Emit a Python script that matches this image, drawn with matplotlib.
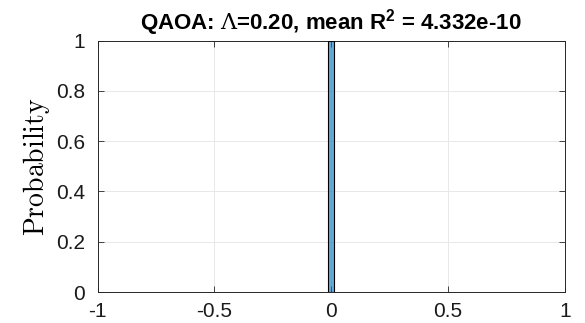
import numpy as np
import matplotlib
matplotlib.use('Agg')
import matplotlib.pyplot as plt
from matplotlib.ticker import FuncFormatter

# histogram of R values (one bin holds everything)
bin_centers = [0.0]
bin_probs = [1.0]
bin_width = 0.025

x_ticks = [-1, -0.5, 0, 0.5, 1]
y_ticks = [0, 0.2, 0.4, 0.6, 0.8, 1]
title = r'QAOA: $\mathrm{\Lambda}$=0.20, mean R$^{\mathbf{2}}$ = 4.332e-10'

plt.rcParams['font.family'] = ['Liberation Sans', 'DejaVu Sans']
plt.rcParams['mathtext.fontset'] = 'cm'
plt.rcParams['mathtext.rm'] = 'DejaVu Serif'
plt.rcParams['mathtext.bf'] = 'Liberation Sans:bold'

fig = plt.figure(figsize=(5.85, 3.23), dpi=100)
ax = fig.add_axes([97.5 / 585, 1 - 292 / 323, 467.5 / 585, 251.3 / 323])

ax.bar(bin_centers, bin_probs, width=bin_width, color=(0.0, 0.447, 0.741, 0.6),
       edgecolor='black', linewidth=0.8, zorder=3)

ax.set_xlim(-1, 1)
ax.set_ylim(0, 1)
ax.set_xticks(x_ticks)
ax.set_yticks(y_ticks)
fmt = FuncFormatter(lambda v, p: ('%g' % v))
ax.xaxis.set_major_formatter(fmt)
ax.yaxis.set_major_formatter(fmt)
ax.tick_params(direction='in', length=4, width=0.6, colors='0.15', labelsize=15,
               labelcolor='0.1', top=True, right=True)
ax.tick_params(axis='x', pad=7.5)
ax.tick_params(axis='y', pad=9)
ax.grid(True, color='0.91', linewidth=0.7, zorder=0)
for s in ax.spines.values():
    s.set_color('0.15')
    s.set_linewidth(0.7)

ax.set_ylabel(r'$\mathrm{Probability}$', fontsize=20, labelpad=3, math_fontfamily='cm')
ax.set_title(title, fontsize=16, fontweight='bold', pad=8, math_fontfamily='custom')

fig.savefig('out.png', dpi=100)
